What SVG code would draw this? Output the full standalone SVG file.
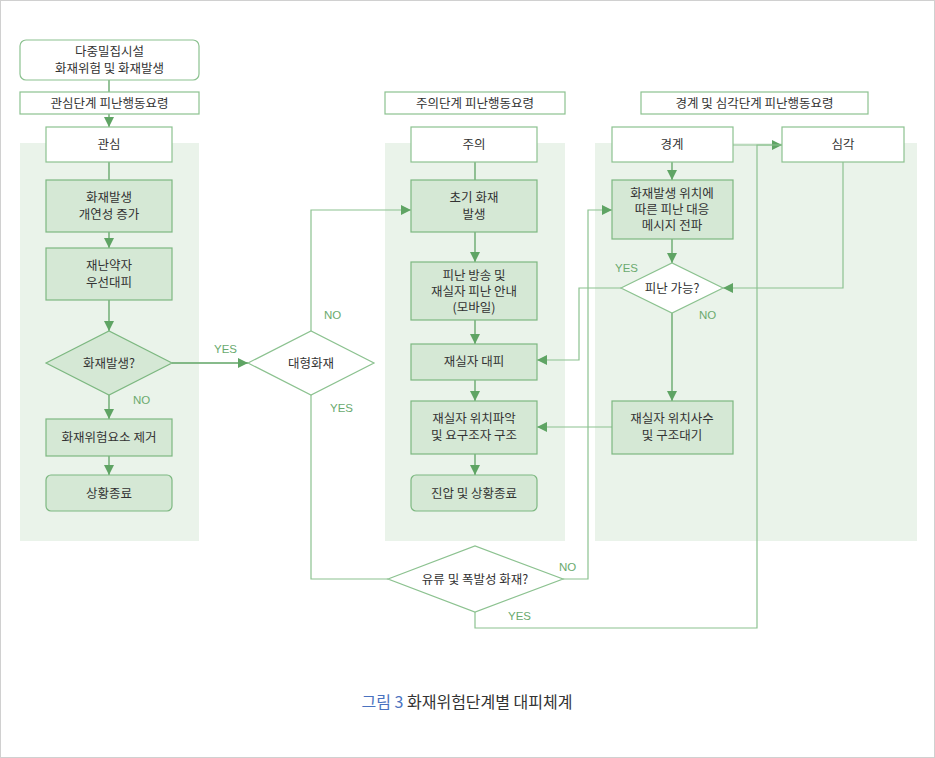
<svg xmlns="http://www.w3.org/2000/svg" width="935" height="758" viewBox="0 0 935 758">
<defs>
<marker id="ah" viewBox="0 0 10 10" refX="10" refY="5" markerWidth="10" markerHeight="10" markerUnits="userSpaceOnUse" orient="auto"><path d="M0,0L10,5L0,10z" fill="#5fa464"/></marker>
<style>
text{font-family:"Noto Sans CJK KR","Noto Sans",sans-serif;font-size:12.5px;fill:#333;text-anchor:middle}
.lbl{font-family:"Liberation Sans",sans-serif;font-size:11.5px;fill:#6aaa6e;text-anchor:start}
.panel{fill:#eaf3ea}
.w{fill:#fff;stroke:#8cc290;stroke-width:1.2}
.g{fill:#d5e8d5;stroke:#7db881;stroke-width:1.2}
.c{fill:none;stroke:#5fa464;stroke-width:1.3}
.t{fill:none;stroke:#8cc290;stroke-width:1.2}
</style>
</defs>
<rect x="0.5" y="0.5" width="934" height="757" fill="#fff" stroke="#d0d0d0"/>
<rect class="panel" x="20" y="143" width="179" height="398"/>
<rect class="panel" x="385" y="143" width="180" height="398"/>
<rect class="panel" x="595" y="143" width="322" height="398"/>
<g id="connectors">
<path class="c" d="M109,80V92M109,114V127" marker-end="url(#ah)"/>
<path class="c" d="M109,162V180"/>
<path class="c" d="M109,232V248" marker-end="url(#ah)"/>
<path class="c" d="M109,300V331" marker-end="url(#ah)"/>
<path class="c" d="M109,395V419" marker-end="url(#ah)"/>
<path class="c" d="M109,456V475" marker-end="url(#ah)"/>
<path class="c" d="M172,363H248" marker-end="url(#ah)"/>
<path class="t" d="M311,331V210H411" marker-end="url(#ah)"/>
<path class="t" d="M311,395V579H388"/>
<path class="c" d="M475,162V180"/>
<path class="c" d="M475,232V262" marker-end="url(#ah)"/>
<path class="c" d="M475,320V344" marker-end="url(#ah)"/>
<path class="c" d="M475,380V401" marker-end="url(#ah)"/>
<path class="c" d="M475,454V475" marker-end="url(#ah)"/>
<path class="t" d="M563,579H588V210H612" marker-end="url(#ah)"/>
<path class="t" d="M475,612V628H757V145H782" marker-end="url(#ah)"/>
<path class="t" d="M733,145H782"/>
<path class="c" d="M672,162V180" marker-end="url(#ah)"/>
<path class="c" d="M672,239V263" marker-end="url(#ah)"/>
<path class="t" d="M843,162V288H723" marker-end="url(#ah)"/>
<path class="t" d="M621,288H579V360H537" marker-end="url(#ah)"/>
<path class="c" d="M672,313V401" marker-end="url(#ah)"/>
<path class="t" d="M612,427H537" marker-end="url(#ah)"/>
</g>
<text class="lbl" x="133" y="404">NO</text>
<text class="lbl" x="214" y="353">YES</text>
<text class="lbl" x="324" y="319">NO</text>
<text class="lbl" x="330" y="412">YES</text>
<text class="lbl" x="559" y="571">NO</text>
<text class="lbl" x="508" y="620">YES</text>
<text class="lbl" x="615" y="272">YES</text>
<text class="lbl" x="699" y="319">NO</text>
<g id="n1"><rect class="w" x="20" y="40" width="179" height="40" rx="6"/><text x="109.5" y="56">다중밀집시설</text><text x="109.5" y="73">화재위험 및 화재발생</text></g>
<g id="h1"><rect class="w" x="20" y="92" width="179" height="22"/><text x="109.5" y="107.5">관심단계 피난행동요령</text></g>
<g id="n2"><rect class="w" x="46" y="127" width="126" height="35"/><text x="109" y="149">관심</text></g>
<g id="n3"><rect class="g" x="46" y="180" width="126" height="52"/><text x="109" y="202">화재발생</text><text x="109" y="219">개연성 증가</text></g>
<g id="n4"><rect class="g" x="46" y="248" width="126" height="52"/><text x="109" y="270">재난약자</text><text x="109" y="287">우선대피</text></g>
<g id="n5"><path class="g" d="M46,363L109,331L172,363L109,395z"/><text x="109" y="368">화재발생?</text></g>
<g id="n6"><rect class="g" x="46" y="419" width="126" height="37"/><text x="109" y="442">화재위험요소 제거</text></g>
<g id="n7"><rect class="g" x="46" y="475" width="126" height="36" rx="5"/><text x="109" y="498">상황종료</text></g>
<g id="n8"><path class="w" d="M248,363L311,331L374,363L311,395z"/><text x="311" y="368">대형화재</text></g>
<g id="h2"><rect class="w" x="385" y="92" width="180" height="22"/><text x="475" y="107.5">주의단계 피난행동요령</text></g>
<g id="n9"><rect class="w" x="411" y="127" width="126" height="35"/><text x="474" y="149">주의</text></g>
<g id="n10"><rect class="g" x="411" y="180" width="126" height="52"/><text x="474" y="202">초기 화재</text><text x="474" y="219">발생</text></g>
<g id="n11"><rect class="g" x="411" y="262" width="126" height="58"/><text x="474" y="280">피난 방송 및</text><text x="474" y="296">재실자 피난 안내</text><text x="474" y="312">(모바일)</text></g>
<g id="n12"><rect class="g" x="411" y="344" width="126" height="36"/><text x="474" y="366">재실자 대피</text></g>
<g id="n13"><rect class="g" x="411" y="401" width="126" height="53"/><text x="474" y="423">재실자 위치파악</text><text x="474" y="440">및 요구조자 구조</text></g>
<g id="n14"><rect class="g" x="411" y="475" width="126" height="36" rx="5"/><text x="474" y="498">진압 및 상황종료</text></g>
<g id="n15"><path class="w" d="M388,579L475,546L563,579L475,612z"/><text x="475" y="584">유류 및 폭발성 화재?</text></g>
<g id="h3"><rect class="w" x="641" y="92" width="227" height="22"/><text x="754.5" y="107.5">경계 및 심각단계 피난행동요령</text></g>
<g id="n16"><rect class="w" x="612" y="127" width="121" height="35"/><text x="672" y="149">경계</text></g>
<g id="n17"><rect class="w" x="782" y="127" width="122" height="35"/><text x="843" y="149">심각</text></g>
<g id="n18"><rect class="g" x="612" y="180" width="121" height="59"/><text x="672" y="198">화재발생 위치에</text><text x="672" y="214">따른 피난 대응</text><text x="672" y="230">메시지 전파</text></g>
<g id="n19"><path class="w" d="M621,288L672,263L723,288L672,313z"/><text x="672" y="293">피난 가능?</text></g>
<g id="n20"><rect class="g" x="612" y="401" width="121" height="53"/><text x="672" y="423">재실자 위치사수</text><text x="672" y="440">및 구조대기</text></g>
<text x="467" y="708" style="font-size:16px"><tspan fill="#4a72c0">그림 3</tspan> 화재위험단계별 대피체계</text>
</svg>
